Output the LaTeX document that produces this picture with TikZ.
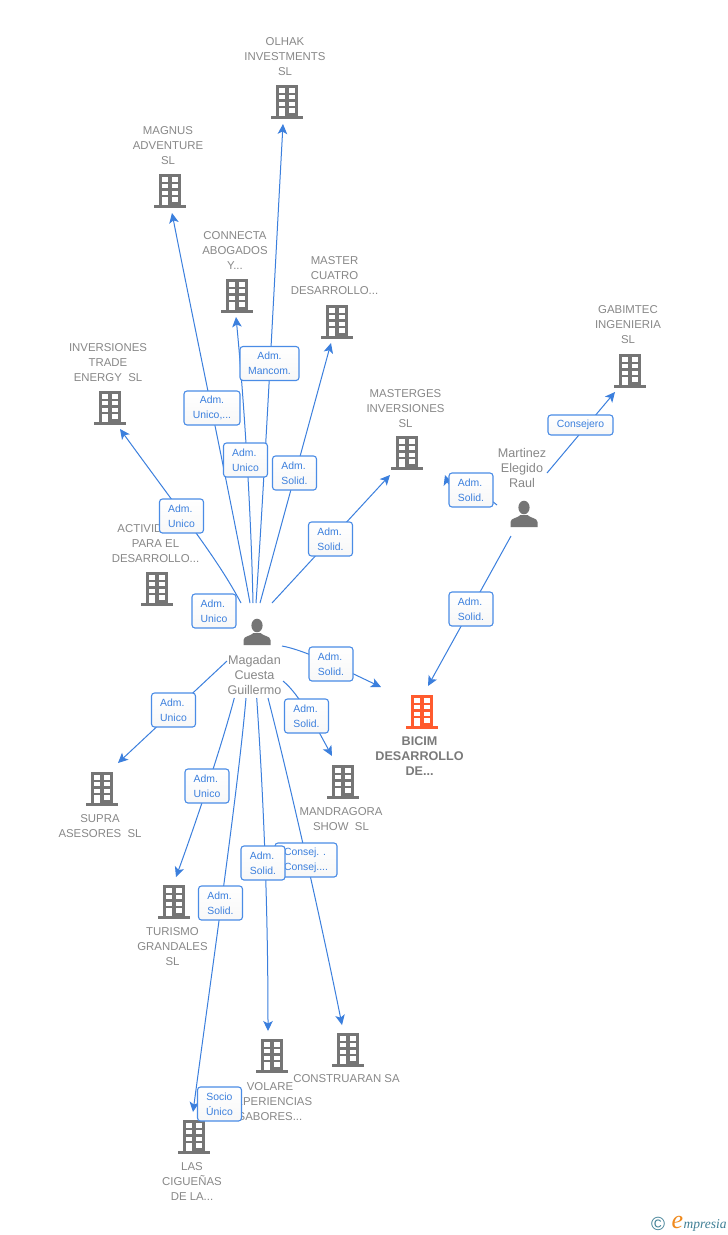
\documentclass[tikz,border=0pt]{standalone}
\usepackage{fontspec}
\setmainfont{Liberation Sans}
\newfontfamily\logofont{Liberation Serif}
\usetikzlibrary{arrows.meta}
\definecolor{icongrey}{HTML}{757575}
\definecolor{iconorange}{HTML}{FF5B2E}
\definecolor{textgrey}{HTML}{888888}
\definecolor{edgeblue}{HTML}{3B7FDD}
\definecolor{boxblue}{HTML}{4A8CE6}
\definecolor{logoteal}{HTML}{3F7F95}
\definecolor{logoorange}{HTML}{F08A1D}
\tikzset{
  pics/bldg/.style={code={
    \fill[#1] (-11,-17) rectangle (11,14);
    \fill[#1] (-16,13.5) rectangle (16,16.5);
    \foreach \wy in {-14,-7.2,-0.5}{
      \fill[white] (-7.8,\wy) rectangle (-2.4,\wy+4.5);
      \fill[white] (2.2,\wy) rectangle (7.6,\wy+4.5);
    }
    \fill[white] (2.2,6) rectangle (7.6,10.5);
    \fill[white] (-7.8,6) rectangle (-2.4,13.5);
  }},
  pics/persona/.style={code={
    \fill[icongrey] (0,-6.5) ellipse (5.6 and 6.8);
    \fill[icongrey] (-13.5,13) -- (-13.5,8) .. controls (-13.5,4) and (-6,4) .. (-3.5,1) -- (3.5,1)
      .. controls (6,4) and (13.5,4) .. (13.5,8) -- (13.5,13) -- cycle;
  }},
  iconbox/.style={minimum width=32pt,minimum height=34pt,inner sep=0pt,outer sep=0pt},
  name text/.style={align=center,text=textgrey,inner sep=0pt,
    font=\fontsize{11.4}{15}\selectfont},
  person text/.style={align=center,text=textgrey,inner sep=0pt,
    font=\fontsize{12.6}{15}\selectfont},
  main text/.style={align=center,text=textgrey!90!black,inner sep=0pt,
    font=\fontsize{12.6}{15}\selectfont\bfseries},
  edge/.style={draw=edgeblue,line width=1pt,-{Stealth[length=10pt,width=9.5pt,inset=2.5pt]}},
  lab/.style={draw=boxblue,line width=1.1pt,rounded corners=3pt,top color=white,bottom color=black!3,
    text=edgeblue,align=center,inner sep=0pt,minimum width=44pt,minimum height=34pt,
    font=\fontsize{10.4}{15}\selectfont},
  lableft/.style={lab,align=left},
}
\begin{document}
\begin{tikzpicture}[x=1pt,y=-1pt]
\useasboundingbox (0,0) rectangle (728,1235);
\fill[white] (0,0) rectangle (728,1235);

% ---- company icons
\foreach \n/\px/\py in {olhak/287/102,magnus/170/191,connecta/237/296,master/337/322,
  inversiones/110/408,masterges/407/453,gabimtec/630/371,actividades/157/589,
  supra/102/789,turismo/174/902,mandragora/343/782,volare/272/1056,
  construaran/348/1050,ciguenas/194/1137}{
  \node[iconbox] (\n) at (\px,\py) {};
  \pic at (\n) {bldg=icongrey};
}
\node[iconbox] (bicim) at (422,712) {};
\pic at (bicim) {bldg=iconorange};

% ---- person icons
\node[iconbox] (magadan) at (257,632) {};
\pic at (magadan) {persona};
\node[iconbox] (martinez) at (524,514) {};
\pic at (martinez) {persona};

% ---- names
\node[name text] (t-olhak) at (285,56.5) {OLHAK\\INVESTMENTS\\SL};
\node[name text] (t-magnus) at (168,145.5) {MAGNUS\\ADVENTURE\\SL};
\node[name text] (t-connecta) at (235,250.5) {CONNECTA\\ABOGADOS\\Y...};
\node[name text] (t-master) at (334.5,275.5) {MASTER\\CUATRO\\DESARROLLO...};
\node[name text] (t-inversiones) at (108,362.5) {INVERSIONES\\TRADE\\ENERGY\ \ SL};
\node[name text] (t-masterges) at (405.5,408.5) {MASTERGES\\INVERSIONES\\SL};
\node[name text] (t-gabimtec) at (628,324.5) {GABIMTEC\\INGENIERIA\\SL};
\node[name text] (t-actividades) at (155.5,543.5) {ACTIVIDADES\\PARA EL\\DESARROLLO...};
\node[person text] (t-martinez) at (522,467.5) {Martinez\\Elegido\\Raul};
\node[person text] (t-magadan) at (254.5,674.5) {Magadan\\Cuesta\\Guillermo};
\node[main text] (t-bicim) at (419.5,756.5) {BICIM\\DESARROLLO\\DE...};
\node[name text] (t-supra) at (100,826) {SUPRA\\ASESORES\ \ SL};
\node[name text] (t-mandragora) at (341,819) {MANDRAGORA\\SHOW\ \ SL};
\node[name text] (t-turismo) at (172.5,946.5) {TURISMO\\GRANDALES\\SL};
\node[name text] (t-volare) at (270,1101.5) {VOLARE\\EXPERIENCIAS\\SABORES...};
\node[name text] (t-construaran) at (346.5,1079) {CONSTRUARAN SA};
\node[name text] (t-ciguenas) at (192,1181.5) {LAS\\CIGUEÑAS\\DE LA...};

% ---- connector ends
\coordinate (o-olhak) at (256,603);      \coordinate (i-olhak) at (283,124);
\coordinate (o-magnus) at (250,603);     \coordinate (i-magnus) at (172,213);
\coordinate (o-connecta) at (253,603);   \coordinate (i-connecta) at (236,317);
\coordinate (o-master) at (260,603);     \coordinate (i-master) at (331,343);
\coordinate (o-inversiones) at (241,603);\coordinate (i-inversiones) at (120,429);
\coordinate (o-masterges) at (272,603);  \coordinate (i-masterges) at (390,475);
\coordinate (o-supra) at (227,661);      \coordinate (i-supra) at (118,763);
\coordinate (o-turismo) at (234.3,698);  \coordinate (i-turismo) at (176,877);
\coordinate (o-ciguenas) at (246,698);   \coordinate (i-ciguenas) at (193,1112);
\coordinate (o-volare) at (256.7,698);   \coordinate (i-volare) at (268,1031);
\coordinate (o-construaran) at (268,698);\coordinate (i-construaran) at (342,1025);
\coordinate (o-mandragora) at (283,681); \coordinate (i-mandragora) at (332,756);
\coordinate (o-bicim) at (282,646);      \coordinate (i-bicim) at (381,687);
\coordinate (m-bicim) at (511,536);      \coordinate (j-bicim) at (428,686);
\coordinate (m-masterges) at (497,505);  \coordinate (j-masterges) at (445,475);
\coordinate (m-gabimtec) at (547,473);   \coordinate (j-gabimtec) at (615,392);

% ---- connectors
\draw[edge] (o-olhak) .. controls (265,470) and (275,270) .. (i-olhak);
\draw[edge] (o-magnus) .. controls (233,510) and (195,330) .. (i-magnus);
\draw[edge] (o-connecta) .. controls (251,510) and (244,400) .. (i-connecta);
\draw[edge] (o-master) -- (i-master);
\draw[edge] (o-inversiones) .. controls (218,560) and (190,525) .. (i-inversiones);
\draw[edge] (o-masterges) -- (i-masterges);
\draw[edge] (o-supra) -- (i-supra);
\draw[edge] (o-turismo) .. controls (222,745) and (195,825) .. (i-turismo);
\draw[edge] (o-ciguenas) .. controls (238,790) and (212,970) .. (i-ciguenas);
\draw[edge] (o-volare) .. controls (263,790) and (268,900) .. (i-volare);
\draw[edge] (o-construaran) .. controls (288,775) and (322,925) .. (i-construaran);
\draw[edge] (o-mandragora) .. controls (300,695) and (315,725) .. (i-mandragora);
\draw[edge] (o-bicim) .. controls (305,650) and (345,670) .. (i-bicim);
\draw[edge] (m-bicim) -- (j-bicim);
\draw[edge] (m-masterges) .. controls (480,490) and (450,490) .. (j-masterges);
\draw[edge] (m-gabimtec) -- (j-gabimtec);

% ---- connector labels
\node[lab,minimum width=59pt] (l-olhak) at (269.5,363.5) {Adm.\\Mancom.};
\node[lab,minimum width=56pt] (l-magnus) at (212,408) {Adm.\\Unico,...};
\node[lableft] (l-connecta) at (245.5,460) {Adm.\\Unico};
\node[lableft] (l-master) at (294.5,473) {Adm.\\Solid.};
\node[lableft] (l-masterges) at (330.5,539) {Adm.\\Solid.};
\node[lableft] (l-inversiones) at (181.5,516) {Adm.\\Unico};
\node[lableft] (l-actividades) at (214,611) {Adm.\\Unico};
\node[lableft] (l-bicim) at (331,664) {Adm.\\Solid.};
\node[lableft] (l-mandragora) at (306.5,716) {Adm.\\Solid.};
\node[lableft] (l-supra) at (173.5,710) {Adm.\\Unico};
\node[lableft] (l-turismo) at (207,786) {Adm.\\Unico};
\node[lableft,minimum width=62pt] (l-construaran) at (306,860) {Consej. .\\Consej....};
\node[lableft] (l-volare) at (263,863) {Adm.\\Solid.};
\node[lableft] (l-ciguenas) at (220.5,903) {Adm.\\Solid.};
\node[lab] (l-socio) at (219.5,1104) {Socio\\Único};
\node[lableft] (l-mbicim) at (471,609) {Adm.\\Solid.};
\node[lableft] (l-mmasterges) at (471,490) {Adm.\\Solid.};
\node[lab,minimum width=65pt,minimum height=20pt] (l-gabimtec) at (580.5,425) {Consejero};

% ---- logo
\node[text=logoteal,inner sep=0pt,font=\fontsize{19}{19}\selectfont] (copy) at (658,1224) {©};
\node[text=logoorange,inner sep=0pt,font=\logofont\itshape\fontsize{26}{26}\selectfont] (logoe) at (677.5,1222) {e};
\node[text=logoteal,inner sep=0pt,anchor=base west,font=\logofont\itshape\fontsize{13.5}{13.5}\selectfont] (logot) at (683.5,1228) {mpresia};
\end{tikzpicture}
\end{document}
